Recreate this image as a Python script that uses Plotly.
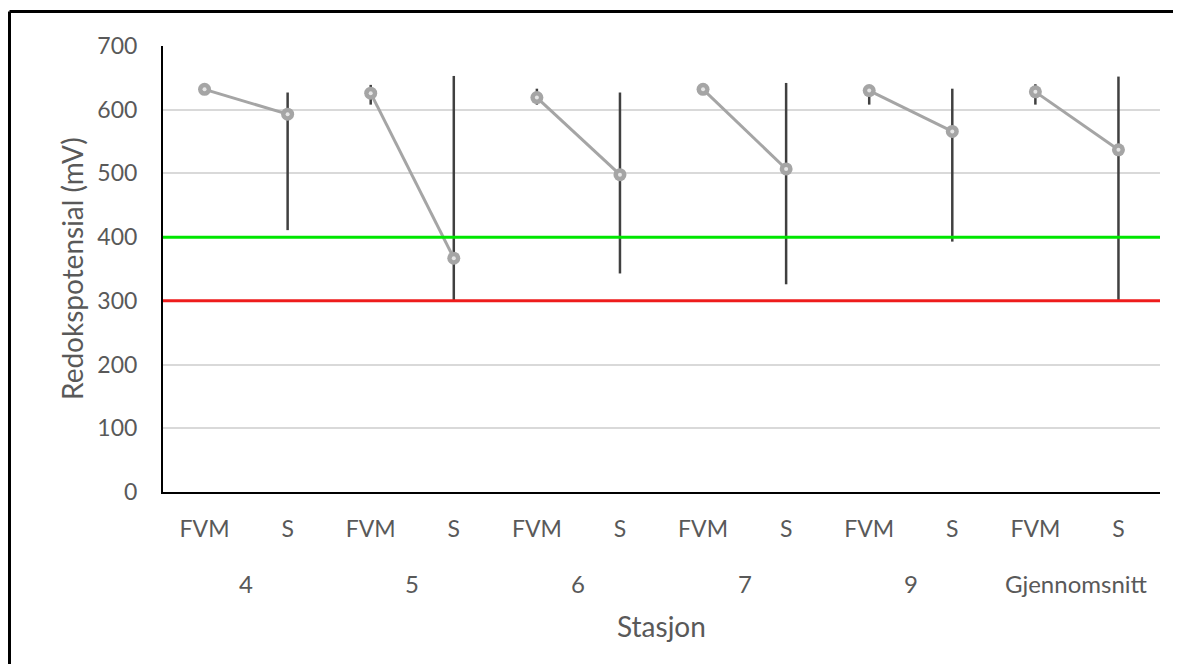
import plotly.graph_objects as go

stations = ["4", "5", "6", "7", "9", "Gjennomsnitt"]
sample_types = ["FVM", "S"]

fvm_mean = [632, 626, 619, 632, 630, 628]
fvm_upper = [637, 639, 633, 637, 637, 640]
fvm_lower = [627, 608, 608, 627, 608, 608]

s_mean = [593, 367, 498, 507, 566, 537]
s_upper = [627, 653, 627, 642, 633, 652]
s_lower = [411, 299, 343, 326, 393, 299]

green_limit = 400
red_limit = 300

y_ticks = [0, 100, 200, 300, 400, 500, 600, 700]

FONT = "Lato"
TXT = "#595959"
W, H = 1165, 656
ML, MR, MT, MB = 155, 13, 38, 172
PW, PH = W - ML - MR, H - MT - MB

fig = go.Figure()

for i, st in enumerate(stations):
    xs = [2 * i, 2 * i + 1]
    ys = [fvm_mean[i], s_mean[i]]
    up = [fvm_upper[i] - fvm_mean[i], s_upper[i] - s_mean[i]]
    dn = [fvm_mean[i] - fvm_lower[i], s_mean[i] - s_lower[i]]
    fig.add_trace(go.Scatter(
        x=xs, y=ys, mode="lines+markers",
        line=dict(color="#a5a5a5", width=3),
        marker=dict(symbol="circle", size=13, color="#a5a5a5"),
        error_y=dict(type="data", symmetric=False, array=up, arrayminus=dn,
                     color="#404040", thickness=2.5, width=0),
        showlegend=False, hoverinfo="skip",
    ))
    fig.add_trace(go.Scatter(
        x=xs, y=ys, mode="markers",
        marker=dict(symbol="circle", size=4, color="#e6e6e6"),
        showlegend=False, hoverinfo="skip",
    ))

fig.add_shape(type="line", xref="paper", yref="y", x0=0, x1=1,
              y0=green_limit, y1=green_limit, line=dict(color="#00e600", width=3))
fig.add_shape(type="line", xref="paper", yref="y", x0=0, x1=1,
              y0=red_limit, y1=red_limit, line=dict(color="#ee1c1c", width=3))

# outer border (only left and top edges are visible in the reference)
bx0 = (1.5 - ML) / PW
by1 = (PH + MT - 3.5) / PH
fig.add_shape(type="line", xref="paper", yref="paper",
              x0=bx0, x1=bx0, y0=-(MB + 20) / PH, y1=by1,
              line=dict(color="black", width=3), layer="above")
fig.add_shape(type="line", xref="paper", yref="paper",
              x0=bx0, x1=(W - ML) / PW, y0=by1, y1=by1,
              line=dict(color="black", width=3), layer="above")

tickvals = list(range(2 * len(stations)))
ticktext = [sample_types[j % 2] for j in tickvals]

fig.update_xaxes(
    range=[-0.5, 2 * len(stations) - 0.5],
    tickvals=tickvals, ticktext=ticktext,
    tickfont=dict(family=FONT, size=23, color=TXT),
    showgrid=False, zeroline=False,
    showline=True, linecolor="black", linewidth=2,
    ticks="", ticklabelstandoff=15,
)
fig.update_yaxes(
    range=[0, 700], tickvals=y_ticks,
    tickfont=dict(family=FONT, size=23, color=TXT),
    showgrid=True, gridcolor="#d9d9d9", gridwidth=2,
    zeroline=False, showline=True, linecolor="black", linewidth=2,
    ticks="", ticklabelstandoff=19,
)

for i, st in enumerate(stations):
    fig.add_annotation(x=2 * i + 0.5, y=0, xref="x", yref="paper",
                       text=st, showarrow=False, yanchor="middle",
                       yshift=-91, font=dict(family=FONT, size=24, color=TXT))

fig.add_annotation(x=0.5, y=0, xref="paper", yref="paper", text="Stasjon",
                   showarrow=False, yanchor="middle", yshift=-134,
                   font=dict(family=FONT, size=28, color=TXT))
fig.add_annotation(x=0, y=0.5, xref="paper", yref="paper",
                   text="Redokspotensial (mV)", textangle=-90,
                   showarrow=False, xanchor="center", xshift=-91,
                   font=dict(family=FONT, size=28, color=TXT))

fig.update_layout(
    width=W, height=H,
    margin=dict(l=ML, r=MR, t=MT, b=MB),
    plot_bgcolor="white", paper_bgcolor="white",
)

fig.write_html("out.html", config={"displayModeBar": False})
